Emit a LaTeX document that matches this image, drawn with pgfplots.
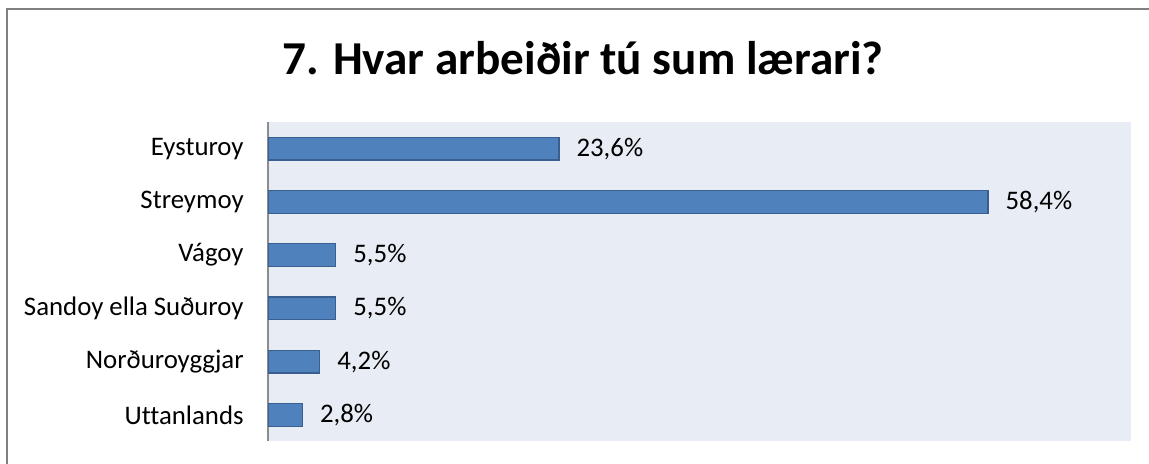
\documentclass[border=0pt]{standalone}
\usepackage{fontspec}
\setmainfont{Carlito}[Ligatures={NoCommon}]
\usepackage{pgfplots}
\pgfplotsset{compat=1.18}
\definecolor{barfill}{HTML}{4F81BD}
\definecolor{baredge}{HTML}{3A5F8E}
\definecolor{bgcol}{HTML}{E8ECF4}
\definecolor{framecol}{HTML}{808080}
\begin{document}
\begin{tikzpicture}
\useasboundingbox (0,0) rectangle (574.5pt,232pt);
\draw[framecol, line width=1pt] (3.65pt,0) -- (3.65pt,227.35pt) -- (574.5pt,227.35pt);
\node[anchor=base, font=\fontsize{23.6}{28}\selectfont\bfseries, inner sep=0pt] at (291.5pt,194.5pt) {7. Hvar arbeiðir tú sum lærari?};
\begin{axis}[
  at={(134pt,11.25pt)}, anchor=south west,
  scale only axis, width=431.5pt, height=159.75pt,
  xbar, bar width=0.43,
  xmin=0, xmax=70,
  ymin=-0.5, ymax=5.5, y dir=reverse,
  ytick={0,1,2,3,4,5},
  yticklabels={Eysturoy,Streymoy,Vágoy,Sandoy ella Suðuroy,Norðuroyggjar,Uttanlands},
  xtick=\empty,
  major tick length=0pt,
  axis x line=none,
  axis y line*=left,
  y axis line style={draw=framecol!90, line width=0.75pt, -},
  axis background/.style={fill=bgcol},
  yticklabel style={font=\fontsize{13.4}{15}\selectfont, inner sep=0pt, xshift=-12pt},
  /pgf/number format/assume math mode=true,
  nodes near coords={\pgfmathprintnumber[fixed,fixed zerofill,precision=1,use comma]{\pgfplotspointmeta}\%},
  nodes near coords style={font=\fontsize{13.4}{15}\selectfont, anchor=west, inner sep=0pt, xshift=8.5pt, text=black},
  point meta=x,
]
\addplot[fill=barfill, draw=baredge, line width=0.6pt] coordinates {
  (23.6,0) (58.4,1) (5.5,2) (5.5,3) (4.2,4) (2.8,5)
};
\end{axis}
\end{tikzpicture}
\end{document}
